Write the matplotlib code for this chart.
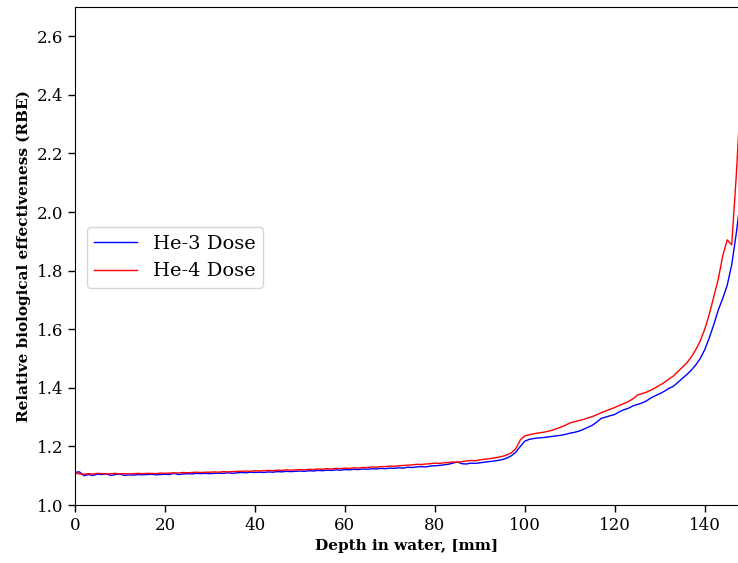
import numpy as np
import matplotlib
matplotlib.use("Agg")
import matplotlib.pyplot as plt

plt.rcParams["font.family"] = ["DejaVu Serif"]

# Depth in water [mm], 1 mm steps
depth_mm = list(range(0, 149))

# RBE along depth, helium-3 beam
rbe_he3 = [
    1.112, 1.113, 1.100, 1.104, 1.101, 1.105, 1.104, 1.106, 1.101, 1.104, 1.106,
    1.101, 1.103, 1.102, 1.104, 1.103, 1.104, 1.105, 1.103, 1.104, 1.105,
    1.104, 1.108, 1.104, 1.106, 1.107, 1.106, 1.108, 1.107, 1.108, 1.107,
    1.108, 1.109, 1.108, 1.110, 1.108, 1.110, 1.111, 1.110, 1.112, 1.111,
    1.112, 1.111, 1.113, 1.112, 1.114, 1.113, 1.115, 1.114, 1.115, 1.116,
    1.115, 1.117, 1.116, 1.118, 1.117, 1.119, 1.118, 1.120, 1.119, 1.121,
    1.120, 1.122, 1.121, 1.123, 1.122, 1.124, 1.123, 1.125, 1.124, 1.126,
    1.125, 1.127, 1.126, 1.129, 1.128, 1.130, 1.131, 1.130, 1.133, 1.134,
    1.135, 1.137, 1.139, 1.143, 1.147, 1.141, 1.140, 1.143, 1.142, 1.144,
    1.146, 1.148, 1.150, 1.152, 1.155, 1.160, 1.168, 1.180, 1.200,
    1.218, 1.224, 1.227, 1.229, 1.230, 1.232, 1.234, 1.236, 1.238, 1.241, 1.245,
    1.248, 1.252, 1.258, 1.265, 1.272, 1.283, 1.296, 1.300, 1.305, 1.309,
    1.318, 1.325, 1.330, 1.338, 1.343, 1.348, 1.355, 1.365, 1.373, 1.380,
    1.388, 1.398, 1.405, 1.418, 1.432, 1.445, 1.460, 1.478, 1.500, 1.530,
    1.570, 1.615, 1.665, 1.705, 1.750, 1.820, 1.925, 2.050,
]

# RBE along depth, helium-4 beam
rbe_he4 = [
    1.110, 1.106, 1.105, 1.107, 1.106, 1.108, 1.107, 1.106, 1.107, 1.108, 1.106,
    1.107, 1.106, 1.107, 1.108, 1.107, 1.108, 1.108, 1.107, 1.109, 1.108,
    1.109, 1.110, 1.109, 1.111, 1.110, 1.111, 1.112, 1.111, 1.112, 1.112,
    1.113, 1.112, 1.114, 1.113, 1.114, 1.115, 1.115, 1.116, 1.115, 1.117,
    1.116, 1.117, 1.118, 1.117, 1.119, 1.118, 1.120, 1.119, 1.120, 1.121,
    1.120, 1.122, 1.121, 1.123, 1.122, 1.124, 1.123, 1.125, 1.124, 1.126,
    1.125, 1.127, 1.126, 1.128, 1.128, 1.130, 1.129, 1.131, 1.131, 1.133,
    1.132, 1.134, 1.135, 1.136, 1.137, 1.139, 1.138, 1.140, 1.141, 1.143,
    1.142, 1.144, 1.145, 1.147, 1.146, 1.148, 1.150, 1.152, 1.151, 1.154,
    1.156, 1.158, 1.160, 1.163, 1.166, 1.171, 1.178, 1.192, 1.222,
    1.236, 1.240, 1.243, 1.246, 1.248, 1.251, 1.255, 1.260, 1.266, 1.272, 1.280,
    1.284, 1.288, 1.292, 1.297, 1.302, 1.308, 1.315, 1.321, 1.327, 1.333,
    1.340, 1.346, 1.353, 1.362, 1.375, 1.380, 1.385, 1.392, 1.400, 1.409,
    1.418, 1.430, 1.440, 1.455, 1.470, 1.485, 1.505, 1.530, 1.560, 1.600,
    1.650, 1.710, 1.770, 1.850, 1.905, 1.888, 2.120, 2.400,
]

x_ticks = [0, 20, 40, 60, 80, 100, 120, 140]
y_ticks = [1.0, 1.2, 1.4, 1.6, 1.8, 2.0, 2.2, 2.4, 2.6]

fig = plt.figure(figsize=(7.38, 5.63), dpi=100)
ax = fig.add_axes([0.1016, 0.103, 0.8984, 0.8846])

ax.plot(depth_mm, rbe_he3, color="blue", lw=1.0, label="He-3 Dose")
ax.plot(depth_mm, rbe_he4, color="red", lw=1.0, label="He-4 Dose")

ax.set_xlim(0, 147.4)
ax.set_ylim(1.0, 2.7)
ax.set_xticks(x_ticks)
ax.set_yticks(y_ticks)
ax.set_yticklabels([f"{v:.1f}" for v in y_ticks])
ax.tick_params(labelsize=12, length=5, width=1)
ax.spines["right"].set_visible(False)

ax.set_xlabel("Depth in water, [mm]", fontsize=11, fontweight="bold")
ax.set_ylabel("Relative biological effectiveness (RBE)", fontsize=11, fontweight="bold")

ax.legend(loc="center left", bbox_to_anchor=(0.0, 0.497), fontsize=14,
          handlelength=2.2, borderaxespad=0.6)

fig.savefig("out.png", dpi=100)
